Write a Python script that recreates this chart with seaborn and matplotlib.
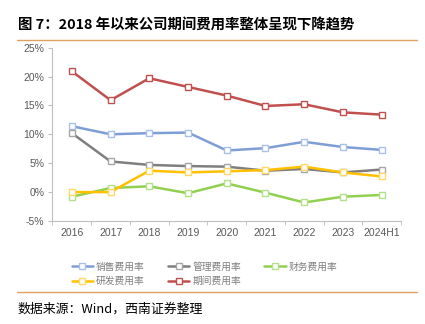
import matplotlib
matplotlib.use("Agg")
import matplotlib.pyplot as plt
import seaborn as sns
import pandas as pd
from matplotlib.lines import Line2D

sns.set_style("white")
plt.rcParams['font.family'] = ['Noto Sans CJK SC', 'DejaVu Sans']

years = ["2016", "2017", "2018", "2019", "2020", "2021", "2022", "2023", "2024H1"]
series_names = ["销售费用率", "管理费用率", "财务费用率", "研发费用率", "期间费用率"]
sales = [11.4, 10.0, 10.2, 10.3, 7.2, 7.6, 8.7, 7.8, 7.3]
admin = [10.2, 5.3, 4.7, 4.5, 4.4, 3.7, 4.0, 3.4, 3.9]
finance = [-0.8, 0.7, 1.0, -0.2, 1.5, -0.1, -1.8, -0.8, -0.5]
rnd = [0.0, 0.0, 3.7, 3.4, 3.6, 3.8, 4.4, 3.4, 2.7]
period = [20.9, 15.9, 19.7, 18.2, 16.7, 14.9, 15.2, 13.8, 13.4]
yticks = [-5, 0, 5, 10, 15, 20, 25]

line_colors = ["#7F9ED6", "#7F7F7F", "#92D050", "#FFC000", "#C0504D"]
edge_colors = ["#A9C0E8", "#A6A6A6", "#B5E08A", "#FFD966", "#C0504D"]

values = [sales, admin, finance, rnd, period]
frames = []
for name, vals in zip(series_names, values):
    frames.append(pd.DataFrame({"year": years, "value": vals, "series": name}))
df = pd.concat(frames, ignore_index=True)

fig = plt.figure(figsize=(4.25, 3.24), dpi=100)
ax = fig.add_axes([0.1235, 0.318, 0.82, 0.535])

for name, lc, ec in zip(series_names, line_colors, edge_colors):
    sub = df[df["series"] == name]
    sns.lineplot(data=sub, x="year", y="value", ax=ax, color=lc, linewidth=1.8,
                 marker="s", markersize=5, markerfacecolor="white",
                 markeredgecolor=ec, markeredgewidth=1.0, legend=False, sort=False)

ax.set_xlim(-0.5, len(years) - 0.5)
ax.set_ylim(-5, 25)
ax.set_yticks(yticks)
ax.set_yticklabels([f"{v}%" for v in yticks])
ax.set_xlabel("")
ax.set_ylabel("")
ax.grid(False)
for s in ["top", "right"]:
    ax.spines[s].set_visible(False)
for s in ["left", "bottom"]:
    ax.spines[s].set_color("#BFBFBF")
    ax.spines[s].set_linewidth(0.8)
ax.tick_params(axis="y", labelsize=7.5, labelcolor="#595959", length=3, color="#BFBFBF", pad=3, left=True)
ax.tick_params(axis="x", labelsize=7.5, labelcolor="#595959", length=0, pad=5, bottom=False)
ax.set_xticks([i + 0.5 for i in range(-1, len(years))], minor=True)
ax.tick_params(axis="x", which="minor", length=3, color="#BFBFBF", bottom=True)
for lbl in ax.get_yticklabels() + ax.get_xticklabels():
    lbl.set_family(['Liberation Sans', 'DejaVu Sans'])

# Title
fig.text(0.042, 0.922, "图 7：2018 年以来公司期间费用率整体呈现下降趋势", fontsize=10.4,
         fontweight="bold", color="#000000", va="center", ha="left")
fig.add_artist(Line2D([0.04, 0.98], [0.877, 0.877], color="#E0A060", linewidth=1.0))

# Legend (row-major order: reorder for column filling)
handles = [Line2D([], [], color=lc, linewidth=1.8, marker="s", markersize=4.5,
                  markerfacecolor="white", markeredgecolor=ec)
           for lc, ec in zip(line_colors, edge_colors)]
order = [0, 3, 1, 4, 2]
leg = fig.legend([handles[i] for i in order], [series_names[i] for i in order],
                 loc="center left", bbox_to_anchor=(0.148, 0.155),
                 ncol=3, frameon=False, fontsize=7, handlelength=2.2, handletextpad=0.3,
                 columnspacing=2.4, labelspacing=0.45)
for t in leg.get_texts():
    t.set_color("#7F7F7F")

fig.add_artist(Line2D([0.04, 0.98], [0.098, 0.098], color="#E0A060", linewidth=1.0))
fig.text(0.042, 0.047, "数据来源：Wind，西南证券整理", fontsize=9.3, style="italic",
         color="#000000", va="center", ha="left")

fig.savefig("out.png", dpi=100)
